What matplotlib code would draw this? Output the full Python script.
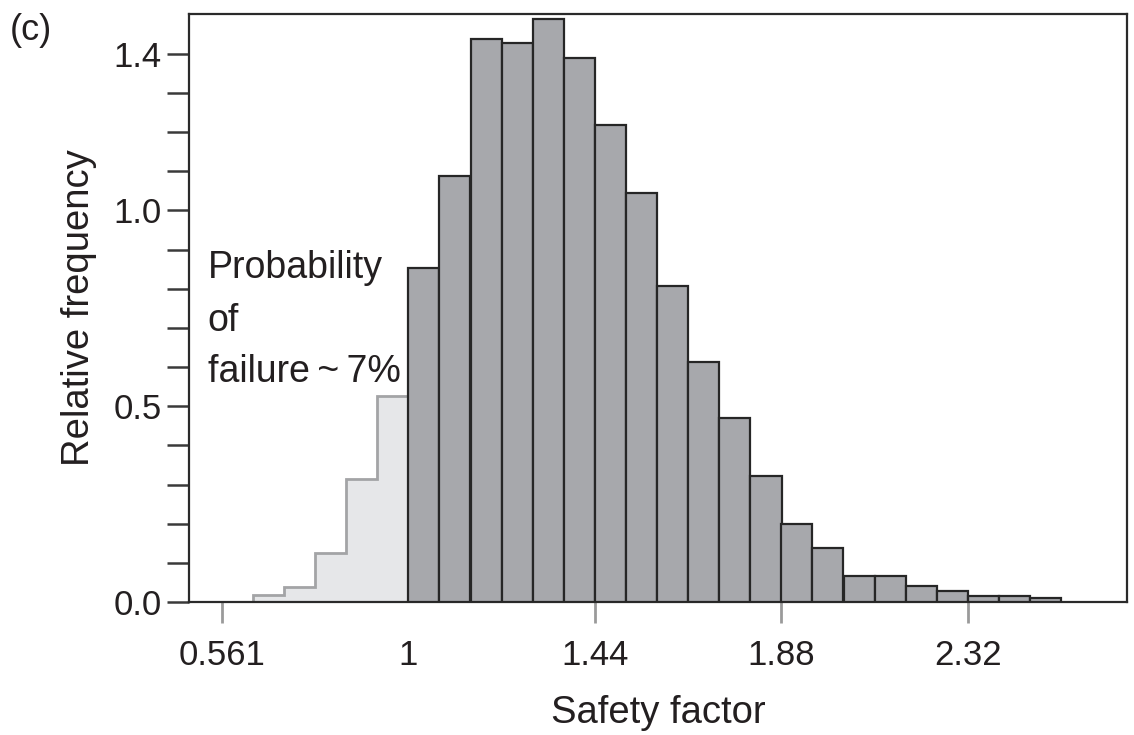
import numpy as np
import matplotlib
matplotlib.use("Agg")
import matplotlib.pyplot as plt

plt.rcParams['font.family'] = ['Liberation Sans', 'DejaVu Sans']

# ---- data ----
bin_width = 0.44 / 6
# failure bins (safety factor < 1), light histogram
fail_edges = [0.633, 0.707, 0.780, 0.853, 0.927, 1.000]
fail_values = [0.018, 0.037, 0.126, 0.313, 0.527]
# safe bins (safety factor >= 1), dark histogram
safe_left = [1.000, 1.073, 1.147, 1.220, 1.293, 1.367, 1.440, 1.513, 1.587,
             1.660, 1.733, 1.807, 1.880, 1.953, 2.027, 2.100, 2.173, 2.247,
             2.320, 2.393, 2.467]
safe_values = [0.853, 1.089, 1.438, 1.427, 1.488, 1.389, 1.219, 1.044, 0.807,
               0.614, 0.469, 0.321, 0.200, 0.137, 0.066, 0.066, 0.041, 0.029,
               0.015, 0.015, 0.011]
x_ticks = [0.561, 1, 1.44, 1.88, 2.32]
x_ticklabels = ["0.561", "1", "1.44", "1.88", "2.32"]
y_ticks_labeled = [0.0, 0.5, 1.0, 1.4]
y_ticklabels = ["0.0", "0.5", "1.0", "1.4"]
y_minor = [0.1, 0.2, 0.3, 0.4, 0.6, 0.7, 0.8, 0.9, 1.1, 1.2, 1.3]
annotation_lines = ["Probability", "of", "failure\u2009~\u20097%"]

fig = plt.figure(figsize=(11.34, 7.35), dpi=100)
ax = fig.add_axes([0.1671, 0.181, 0.8267, 0.800])

ax.stairs(fail_values, fail_edges, baseline=0, fill=True,
          facecolor='#e6e7e9', edgecolor='none', zorder=1)
ax.stairs(fail_values, fail_edges, baseline=0, fill=False,
          edgecolor='#a3a4a6', linewidth=2.0, zorder=2)

ax.bar(safe_left, safe_values, width=bin_width, align='edge',
       color='#a7a8ac', edgecolor='#262626', linewidth=1.6, zorder=3)

ax.set_xlim(0.484, 2.695)
ax.set_ylim(0, 1.502)

ax.set_xticks(x_ticks)
ax.set_xticklabels(x_ticklabels)
ax.set_yticks(y_ticks_labeled)
ax.set_yticklabels(y_ticklabels)
ax.set_yticks(y_minor, minor=True)

ax.tick_params(axis='x', direction='out', length=15, width=2, color='#9a9a9a',
               labelsize=25, pad=12, labelcolor='#231f20')
ax.tick_params(axis='y', which='both', direction='out', length=16, width=1.8,
               color='#3a3a3a', labelsize=25, pad=4, labelcolor='#231f20')
ax.xaxis.get_major_ticks()[1].tick1line.set_visible(False)

for s in ax.spines.values():
    s.set_linewidth(1.6)
    s.set_color('#2a2a2a')

ax.set_xlabel("Safety factor", fontsize=27.5, color='#231f20', labelpad=16)
ax.set_ylabel("Relative frequency", fontsize=27.5, color='#231f20', labelpad=12)

for line, yb in zip(annotation_lines, [0.828, 0.691, 0.563]):
    ax.text(0.527, yb, line, fontsize=27, color='#231f20',
            ha='left', va='baseline', zorder=5)

fig.text(0.009, 0.959, "(c)", fontsize=26, color='#231f20', ha='left', va='center')

fig.savefig("out.png", dpi=100)
